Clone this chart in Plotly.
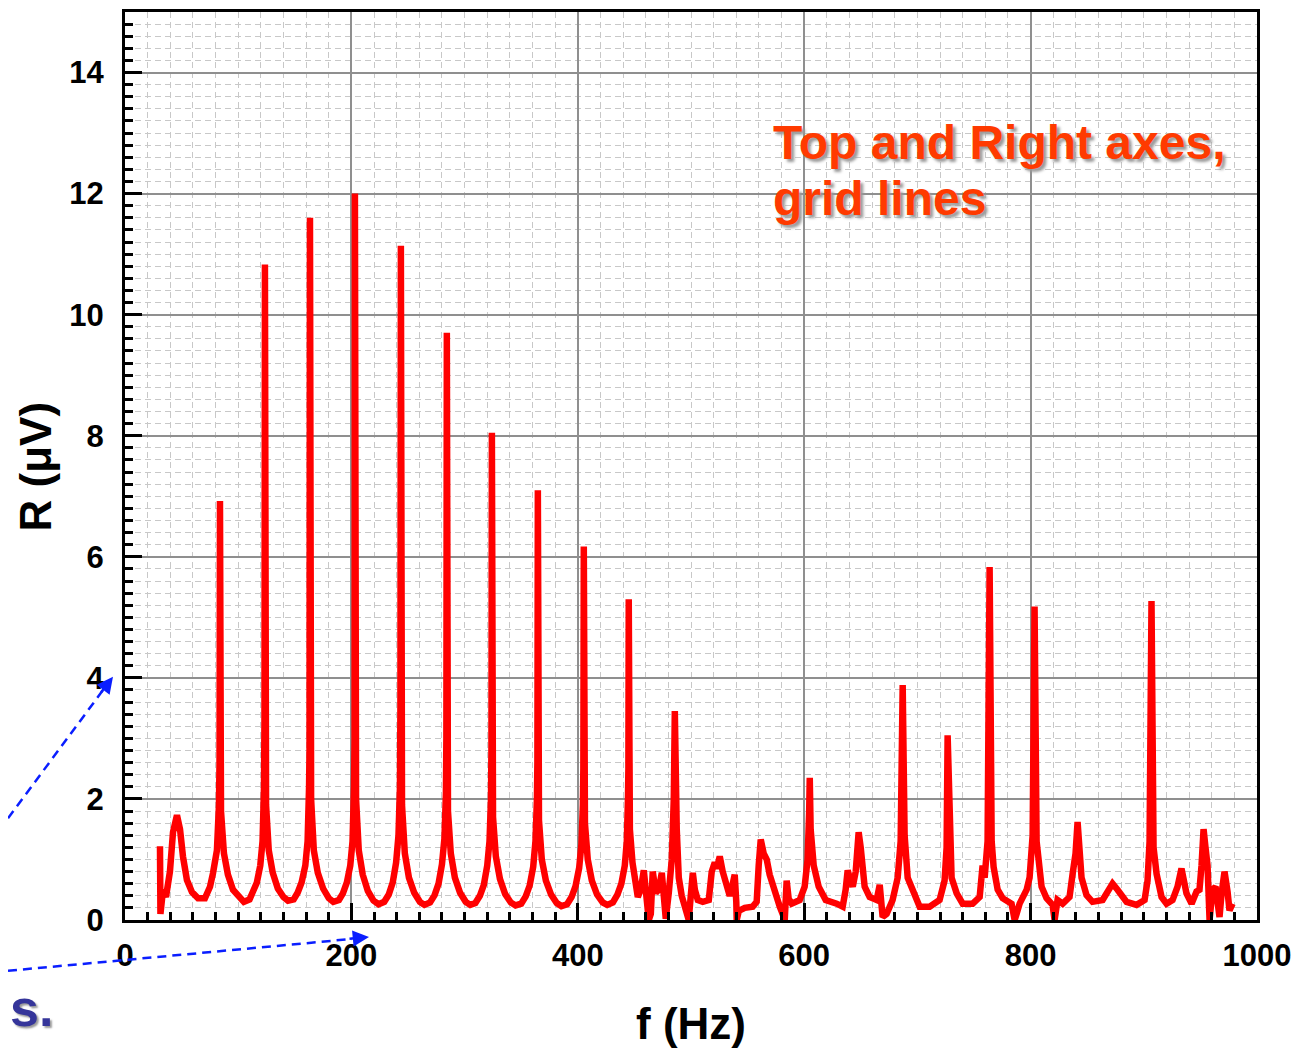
import plotly.graph_objects as go

# ---------------- data ----------------
# low-frequency part: start, small 46 Hz peak and the regular harmonic series
f_low = [30.9, 31.3, 33.6, 36.2, 39.7, 42.4, 45.9, 48.6, 51.2, 54.7, 59.2, 64.5, 70.6, 75.1, 77.7, 81.2, 83.0, 83.5,
         83.9, 84.3, 84.8, 87.4, 90.9, 95.4, 101.0, 105.0,
         110.0, 113.0, 116.5, 119.5, 121.5, 122.8, 123.2, 123.6, 124.0, 124.6, 127.0, 130.5, 135.0, 140.0, 144.0,
         149.0, 152.5, 156.0, 159.3, 161.3, 162.6, 163.0, 163.4, 163.8, 164.4, 166.8, 170.3, 175.0, 180.0, 184.0,
         189.0, 192.5, 196.0, 199.0, 201.0, 202.3, 202.8, 203.1, 203.5, 204.1, 206.5, 210.0, 214.5, 219.5, 224.0,
         229.0, 233.0, 236.5, 239.5, 241.6, 242.9, 243.3, 243.7, 244.1, 244.7, 247.2, 250.8, 255.5, 260.5, 264.5,
         269.5, 273.5, 277.0, 280.0, 282.2, 283.5, 283.9, 284.3, 284.7, 285.3, 287.8, 291.4, 296.0, 301.0, 305.0,
         309.5, 313.5, 317.0, 320.0, 322.0, 323.3, 323.7, 324.1, 324.5, 325.1, 327.6, 331.2, 335.8, 340.8, 345.0,
         350.0, 354.0, 357.5, 360.6, 362.6, 363.9, 364.3, 364.7, 365.1, 365.7, 368.2, 371.8, 376.4, 381.4, 385.5,
         390.5, 394.5, 398.0, 401.2, 403.2, 404.5, 404.9, 405.3, 405.7, 406.3, 408.8, 412.4, 417.0, 422.0, 426.0,
         431.0, 435.0, 438.5, 441.5, 443.3, 444.3, 444.7, 445.0, 445.4, 446.0, 448.3, 450.3]
r_low = [1.22, 0.10, 0.50, 0.38, 0.80, 1.45, 1.73, 1.50, 1.05, 0.66, 0.46, 0.36, 0.36, 0.55, 0.77, 1.15, 1.90, 2.60,
         6.92, 2.40, 1.80, 1.10, 0.75, 0.50, 0.36, 0.30,
         0.34, 0.45, 0.62, 0.90, 1.30, 2.20, 3.30, 10.83, 3.00, 1.90, 1.15, 0.78, 0.52, 0.38, 0.32,
         0.34, 0.45, 0.62, 0.90, 1.30, 2.20, 2.80, 11.60, 4.50, 2.00, 1.15, 0.78, 0.52, 0.36, 0.30,
         0.33, 0.44, 0.62, 0.90, 1.30, 2.20, 3.00, 12.00, 3.20, 2.00, 1.15, 0.75, 0.48, 0.32, 0.26,
         0.30, 0.42, 0.62, 0.95, 1.40, 2.20, 3.50, 11.14, 3.00, 1.90, 1.10, 0.70, 0.45, 0.30, 0.25,
         0.29, 0.41, 0.60, 0.92, 1.35, 2.10, 3.00, 9.70, 2.80, 1.80, 1.10, 0.70, 0.45, 0.30, 0.25,
         0.28, 0.40, 0.58, 0.90, 1.30, 2.00, 2.80, 8.05, 2.60, 1.70, 1.05, 0.68, 0.43, 0.29, 0.24,
         0.27, 0.39, 0.57, 0.88, 1.30, 2.00, 2.60, 7.10, 2.40, 1.65, 1.00, 0.65, 0.42, 0.28, 0.23,
         0.26, 0.38, 0.56, 0.86, 1.25, 1.90, 2.50, 6.17, 2.30, 1.60, 1.00, 0.65, 0.42, 0.29, 0.25,
         0.29, 0.42, 0.60, 0.90, 1.30, 2.00, 2.50, 5.30, 2.20, 1.50, 0.95, 0.70]

# middle part: noisy region 450-660 Hz
f_mid = [453.0, 455.6, 458.3, 460.0, 462.7, 464.5, 466.2, 468.9, 471.5, 474.2, 476.0, 477.7, 480.4, 483.0, 484.8,
         485.7, 487.4, 489.2, 491.8, 495.4, 498.0, 499.8, 501.6, 503.4, 506.0, 510.4, 515.7, 518.3, 521.0, 522.7,
         525.4, 528.0, 531.6, 534.2, 536.9, 538.6, 540.0, 540.4, 542.2, 547.5, 554.5, 558.0, 559.8, 561.6, 564.2,
         566.9, 569.5, 574.0, 578.4, 582.0, 582.8, 584.5, 586.3, 589.0, 596.0, 600.4, 603.0, 604.4, 604.9, 605.7,
         608.4, 612.8, 619.0, 628.7, 634.0, 636.6, 638.4, 640.2, 642.9, 645.5, 648.1, 649.9, 653.4, 657.8]
r_mid = [0.38, 0.50, 0.82, 0.50, 0.00, 0.10, 0.80, 0.45, 0.50, 0.78, 0.40, 0.02, 0.45, 1.00, 2.00,
         3.45, 1.50, 0.70, 0.40, 0.10, 0.00, 0.40, 0.78, 0.50, 0.33, 0.30, 0.33, 0.80, 0.95, 0.85,
         1.05, 0.80, 0.55, 0.40, 0.60, 0.75, 0.30, 0.00, 0.15, 0.20, 0.22, 0.30, 0.90, 1.33, 1.10,
         1.00, 0.75, 0.44, 0.22, 0.05, 0.00, 0.65, 0.35, 0.27, 0.33, 0.55, 1.00, 1.80, 2.35, 1.50,
         0.90, 0.55, 0.33, 0.27, 0.22, 0.50, 0.82, 0.70, 0.55, 0.80, 1.45, 1.20, 0.55, 0.38]

# high part: 660-980 Hz
f_high = [664.0, 666.7, 668.4, 669.3, 672.8, 678.1, 682.6, 685.2, 687.0, 688.7, 691.4, 697.6, 702.0, 710.8,
          719.6, 724.0, 725.8, 726.7, 728.5, 730.2, 734.7, 740.0, 748.8, 755.0, 757.6, 759.4, 762.0, 763.8,
          765.6, 767.3, 770.9, 775.3, 783.2, 785.9, 787.6, 790.3, 796.5, 799.1, 801.8, 803.5, 805.3, 807.0,
          809.7, 814.1, 819.4, 821.2, 823.0, 823.8, 828.3, 834.4, 837.1, 839.7, 841.5, 843.3, 845.0, 849.4,
          854.7, 863.6, 869.8, 872.4, 876.8, 884.8, 893.6, 900.7, 903.3, 905.1, 906.8, 908.6, 911.3, 915.7,
          920.1, 925.4, 929.8, 933.3, 937.7, 942.2, 946.6, 949.2, 951.0, 952.8, 954.5, 956.3, 958.1, 959.8,
          960.7, 963.4, 965.1, 966.9, 968.7, 971.3, 974.0, 975.7, 978.4]
r_high = [0.33, 0.58, 0.30, 0.05, 0.10, 0.33, 0.70, 1.30, 3.88, 1.40, 0.70, 0.38, 0.22, 0.22,
          0.33, 0.65, 1.20, 3.05, 1.20, 0.70, 0.44, 0.27, 0.27, 0.38, 0.90, 0.70, 1.30, 5.83,
          1.30, 0.88, 0.50, 0.36, 0.27, 0.00, 0.10, 0.27, 0.50, 0.70, 1.40, 5.18, 1.30, 0.90,
          0.55, 0.36, 0.25, 0.00, 0.20, 0.33, 0.27, 0.38, 0.76, 1.10, 1.62, 1.00, 0.70, 0.41,
          0.30, 0.33, 0.52, 0.60, 0.50, 0.30, 0.25, 0.33, 0.65, 1.30, 5.27, 1.20, 0.76, 0.38,
          0.27, 0.33, 0.55, 0.85, 0.44, 0.27, 0.47, 0.50, 0.90, 1.50, 1.20, 0.90, 0.00, 0.30,
          0.50, 0.55, 0.30, 0.05, 0.44, 0.80, 0.47, 0.16, 0.27]

x_ticks = [0, 200, 400, 600, 800, 1000]
y_ticks = [0, 2, 4, 6, 8, 10, 12, 14]

freq = f_low + f_mid + f_high
resp = r_low + r_mid + r_high

# ---------------- figure ----------------
OFF = 8                      # page body margin of the browser
W, H = 1305 - OFF, 1049 - OFF
ML, MR, MT, MB = 117, 48, 1, 129
PW, PH = W - ML - MR, H - MT - MB


def px(x):
    """screen pixel x -> paper x"""
    return (x - OFF - ML) / PW


def py(y):
    """screen pixel y -> paper y"""
    return (H - MB - (y - OFF)) / PH


FONT = "Liberation Sans, Arial, sans-serif"

fig = go.Figure()
fig.add_trace(go.Scatter(x=freq, y=resp, mode="lines",
                         line=dict(color="#ff0000", width=6.5), showlegend=False,
                         hoverinfo="x+y"))

axis_common = dict(
    showline=True, linewidth=3, linecolor="black", mirror=True,
    ticks="inside", ticklen=17, tickwidth=3, tickcolor="black",
    showgrid=True, gridcolor="#8f8f8f", gridwidth=1.5,
    zeroline=False,
    tickfont=dict(family=FONT, size=31, color="black", weight="bold"),
)

fig.update_xaxes(range=[0, 1000], tickvals=x_ticks, ticktext=[str(v) for v in x_ticks],
                 ticklabelstandoff=6,
                 minor=dict(dtick=20, ticks="inside", ticklen=8, tickwidth=2.5, tickcolor="black",
                            showgrid=True, gridcolor="#c8c8c8", gridwidth=1, griddash="6px,4px"),
                 **axis_common)
fig.update_yaxes(range=[0, 15], tickvals=y_ticks, ticktext=[str(v) for v in y_ticks],
                 ticklabelstandoff=12,
                 minor=dict(dtick=0.2, ticks="inside", ticklen=8, tickwidth=2.5, tickcolor="black",
                            showgrid=True, gridcolor="#c8c8c8", gridwidth=1, griddash="6px,4px"),
                 **axis_common)

annotations = [
    # axis titles
    dict(x=px(35), y=py(465), xref="paper", yref="paper", text="R (μV)", textangle=-90,
         showarrow=False, xanchor="center", yanchor="middle",
         font=dict(family=FONT, size=44, color="black", weight="bold")),
    dict(x=px(691), y=py(1024), xref="paper", yref="paper", text="f (Hz)",
         showarrow=False, xanchor="center", yanchor="middle",
         font=dict(family=FONT, size=44, color="black", weight="bold")),
    # red callout
    dict(x=px(771), y=py(140), xref="paper", yref="paper", text="Top and Right axes,",
         showarrow=False, xanchor="left", yanchor="middle",
         font=dict(family=FONT, size=48, color="#ff3a00", weight="bold",
                   shadow="3px 3px 3px #9a9a9a")),
    dict(x=px(771), y=py(196), xref="paper", yref="paper", text="grid lines",
         showarrow=False, xanchor="left", yanchor="middle",
         font=dict(family=FONT, size=48, color="#ff3a00", weight="bold",
                   shadow="3px 3px 3px #9a9a9a")),
    # cut-off slide text at lower left
    dict(x=px(OFF), y=py(1008), xref="paper", yref="paper", text="s.",
         showarrow=False, xanchor="left", yanchor="middle",
         font=dict(family=FONT, size=52, color="#35359a", weight="bold",
                   shadow="2px 2px 2px #9a9a9a")),
    # arrow heads of the blue dashed pointers
    dict(x=px(113), y=py(676), xref="paper", yref="paper", ax=-13, ay=17,
         showarrow=True, arrowhead=2, arrowsize=1.3, arrowwidth=2.5, arrowcolor="#0a1eff",
         standoff=0, text=""),
    dict(x=px(369), y=py(937), xref="paper", yref="paper", ax=-21, ay=2,
         showarrow=True, arrowhead=2, arrowsize=1.3, arrowwidth=2.5, arrowcolor="#0a1eff",
         standoff=0, text=""),
]

shapes = [
    dict(type="line", xref="paper", yref="paper", x0=px(OFF), y0=py(818), x1=px(104), y1=py(688),
         line=dict(color="#0a1eff", width=2.5, dash="9px,6px")),
    dict(type="line", xref="paper", yref="paper", x0=px(OFF), y0=py(971), x1=px(352), y1=py(939),
         line=dict(color="#0a1eff", width=2.5, dash="9px,6px")),
]

fig.update_layout(
    width=W, height=H,
    margin=dict(l=ML, r=MR, t=MT, b=MB, pad=0),
    paper_bgcolor="white", plot_bgcolor="white",
    annotations=annotations, shapes=shapes,
    showlegend=False,
)

fig.write_html("out.html")
